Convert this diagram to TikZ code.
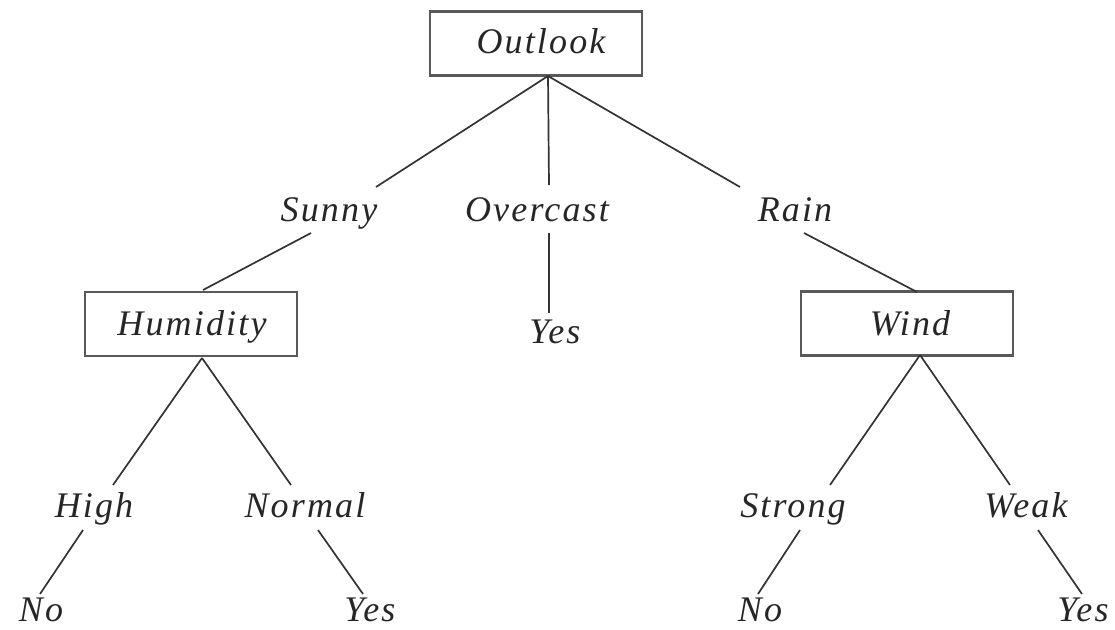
\documentclass[tikz,border=0pt]{standalone}
\usepackage{fontspec}
\setmainfont{Liberation Serif}[LetterSpace=6]
\begin{document}
\begin{tikzpicture}[x=0.5pt,y=-0.5pt,
  lbl/.style={font=\fontsize{18}{20}\selectfont\itshape, anchor=base, inner sep=0pt, text=black!85},
  attr/.style={draw=black!65, line width=1.4pt, fill=white, minimum width=106pt, minimum height=32pt, inner sep=0pt},
  edge/.style={draw=black!80, line width=0.85pt}]
\useasboundingbox (0,0) rectangle (1115,629);
% boxes
\node[attr] (outlook) at (536,43.5) {};
\node[attr] (humidity) at (191,324) {};
\node[attr] (wind) at (907,323.5) {};
% texts
\node[lbl] (toutlook) at (541,53) {Outlook};
\node[lbl] (thumidity) at (192,335) {Humidity};
\node[lbl] (twind) at (910,335) {Wind};
\node[lbl] (sunny) at (329,221) {Sunny};
\node[lbl] (overcast) at (537,221) {Overcast};
\node[lbl] (rain) at (795,221) {Rain};
\node[lbl] (yes1) at (555,343) {Yes};
\node[lbl] (high) at (94,517) {High};
\node[lbl] (normal) at (305,517) {Normal};
\node[lbl] (strong) at (793,517) {Strong};
\node[lbl] (weak) at (1026,517) {Weak};
\node[lbl] (no1) at (41,621) {No};
\node[lbl] (yes2) at (370,621) {Yes};
\node[lbl] (no2) at (760,621) {No};
\node[lbl] (yes3) at (1083,621) {Yes};
% connector end points
\coordinate (ob) at (548,76);
\coordinate (sunny-t) at (376,187);
\coordinate (ovc-t) at (549,185);
\coordinate (rain-t) at (740,187);
\coordinate (sunny-b) at (311,233);
\coordinate (ovc-b) at (549,233);
\coordinate (rain-b) at (804,233);
\coordinate (ht) at (203,290);
\coordinate (wt) at (917,292);
\coordinate (yes1-t) at (549,313);
\coordinate (hb) at (202,358);
\coordinate (wb) at (920,355);
\coordinate (high-t) at (113,485);
\coordinate (normal-t) at (291,485);
\coordinate (strong-t) at (830,485);
\coordinate (weak-t) at (1010,485);
\coordinate (high-b) at (83,530);
\coordinate (normal-b) at (318,530);
\coordinate (strong-b) at (800,530);
\coordinate (weak-b) at (1038,530);
\coordinate (no1-t) at (40,594);
\coordinate (yes2-t) at (363,594);
\coordinate (no2-t) at (758,594);
\coordinate (yes3-t) at (1082,594);
% connectors
\draw[edge] (ob) -- (sunny-t);
\draw[edge] (ob) -- (ovc-t);
\draw[edge] (ob) -- (rain-t);
\draw[edge] (sunny-b) -- (ht);
\draw[edge] (ovc-b) -- (yes1-t);
\draw[edge] (rain-b) -- (wt);
\draw[edge] (hb) -- (high-t);
\draw[edge] (hb) -- (normal-t);
\draw[edge] (wb) -- (strong-t);
\draw[edge] (wb) -- (weak-t);
\draw[edge] (high-b) -- (no1-t);
\draw[edge] (normal-b) -- (yes2-t);
\draw[edge] (strong-b) -- (no2-t);
\draw[edge] (weak-b) -- (yes3-t);
\end{tikzpicture}
\end{document}
